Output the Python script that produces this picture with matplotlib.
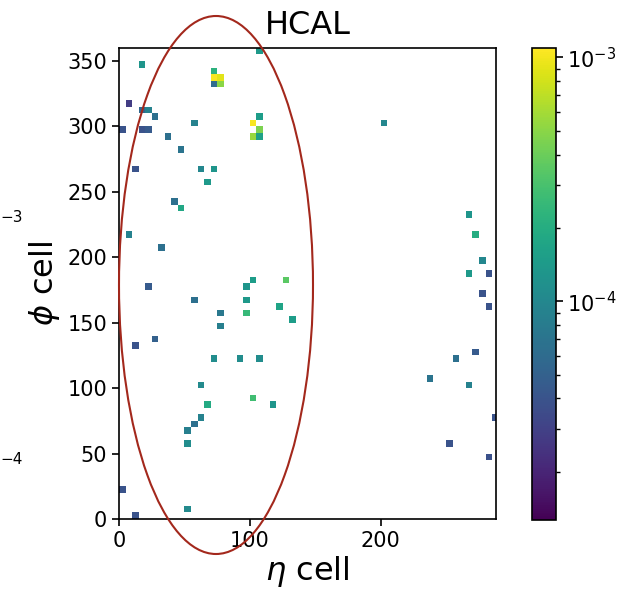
import matplotlib
matplotlib.use("Agg")
import matplotlib.pyplot as plt
import numpy as np
from matplotlib.colors import LogNorm
from matplotlib.patches import Ellipse

# HCAL cell hits: eta index, phi index, deposited energy
eta_cell = [105, 15, 70, 70, 75, 70, 75, 5, 15, 20, 25, 0, 15, 20, 35, 55, 45, 10,
            60, 70, 65, 40, 45, 100, 105, 105, 100, 105,
            5, 30, 20, 100, 125, 95, 55, 95, 120, 95, 130, 75, 75, 10, 25, 70, 90, 105,
            60, 65, 100, 115, 60, 55, 50, 50, 50, 0, 10,
            200, 265, 270, 275, 265, 280, 275, 280, 270, 255, 235, 265, 285, 250, 280]
phi_cell = [355, 345, 340, 335, 335, 330, 330, 315, 310, 310, 305, 295, 295, 295, 290, 300, 280, 265,
            265, 265, 255, 240, 235, 300, 305, 295, 290, 290,
            215, 205, 175, 180, 180, 175, 165, 165, 160, 155, 150, 155, 145, 130, 135, 120, 120, 120,
            100, 85, 90, 85, 75, 70, 65, 55, 5, 20, 0,
            300, 230, 215, 195, 185, 185, 170, 160, 125, 120, 105, 100, 75, 55, 45]
energy = [1.4e-4, 1.3e-4, 2.2e-4, 1.05e-3, 9.0e-4, 6.0e-5, 5.0e-4, 2.8e-5, 5.5e-5, 9.0e-5,
          6.5e-5, 4.0e-5, 4.0e-5, 4.5e-5, 6.5e-5, 9.0e-5, 7.0e-5, 4.0e-5,
          1.0e-4, 1.3e-4, 1.4e-4, 6.5e-5, 1.8e-4, 1.05e-3, 1.5e-4, 4.5e-4, 5.5e-4, 1.6e-4,
          9.0e-5, 6.5e-5, 4.5e-5, 1.5e-4, 3.5e-4, 1.3e-4, 6.5e-5, 1.4e-4, 1.7e-4, 2.5e-4,
          1.5e-4, 7.5e-5, 8.5e-5, 4.0e-5, 5.0e-5, 1.1e-4, 1.1e-4, 1.1e-4,
          1.05e-4, 1.9e-4, 2.8e-4, 1.3e-4, 9.0e-5, 6.5e-5, 8.5e-5, 1.1e-4, 1.05e-4, 4.0e-5, 4.0e-5,
          1.0e-4, 1.3e-4, 2.0e-4, 1.0e-4, 1.4e-4, 4.0e-5, 4.0e-5, 4.0e-5, 4.5e-5, 6.5e-5,
          7.0e-5, 9.0e-5, 4.0e-5, 4.0e-5, 3.8e-5]

eta_edges = np.arange(0, 295, 5)
phi_edges = np.arange(0, 365, 5)

grid, _, _ = np.histogram2d(eta_cell, phi_cell, bins=[eta_edges, phi_edges], weights=energy)
grid = np.ma.masked_equal(grid.T, 0)

fig = plt.figure(figsize=(6.25, 5.97), dpi=100)
ax = fig.add_axes([0.1904, 0.1307, 0.6032, 0.789])
cax = fig.add_axes([0.8517, 0.1290, 0.0374, 0.790])

mesh = ax.pcolormesh(eta_edges, phi_edges, grid, cmap='viridis',
                     norm=LogNorm(vmin=1.27e-5, vmax=1.09e-3))
ax.set_xlim(0, 288)
ax.set_ylim(0, 360)
ax.set_xticks([0, 100, 200])
ax.set_yticks(np.arange(0, 351, 50))
ax.tick_params(labelsize=15, length=5, width=1.2)
for s in ax.spines.values():
    s.set_linewidth(1.2)

ax.set_title('HCAL', fontsize=23, pad=10)
ax.set_xlabel(r'$\eta$ cell', fontsize=23, labelpad=2)
ax.set_ylabel(r'$\phi$ cell', fontsize=23, labelpad=4)

cb = fig.colorbar(mesh, cax=cax)
cb.ax.tick_params(labelsize=15, which='major', length=5, width=1.2)
cb.ax.tick_params(which='minor', length=3, width=1.0)
cb.outline.set_linewidth(1.2)

# region of interest
ell = Ellipse((216 / 625, 1 - 285 / 597), 194 / 625, 538 / 597,
              transform=fig.transFigure, fill=False, edgecolor='#a3281c', linewidth=1.5)
fig.add_artist(ell)

# leftover exponents from the neighbouring panel
fig.text(0.0, 1 - 218 / 597, '\u22123', fontsize=11, ha='left', va='center')
fig.text(0.0, 1 - 460 / 597, '\u22124', fontsize=11, ha='left', va='center')

fig.savefig('out.png', dpi=100)
